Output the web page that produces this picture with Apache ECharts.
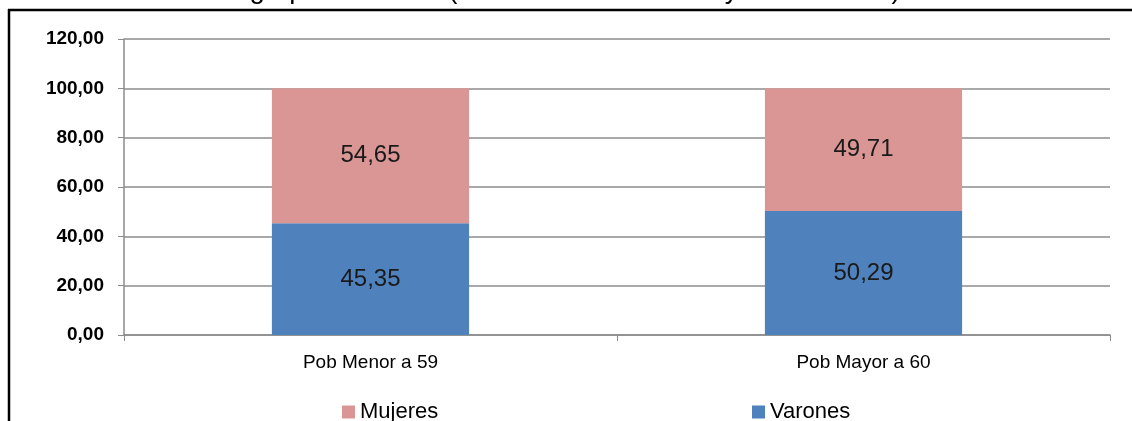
<!DOCTYPE html>
<html><head><meta charset="utf-8">
<script src="https://cdn.jsdelivr.net/npm/echarts@6/dist/echarts.min.js"></script>
<style>html,body{margin:0;padding:0;background:#fff;}#c{width:1132px;height:421px;}</style>
</head><body><div id="c"></div>
<script>
const categories = ['Pob Menor a 59', 'Pob Mayor a 60'];
const varones = [45.35, 50.29];
const mujeres = [54.65, 49.71];
const yTicks = {min: 0, max: 120, interval: 20};
const titleText = 'grupos de edad (Menor a 59 años / Mayor a 60 años)';

const fmt = v => Number(v).toFixed(2).replace('.', ',');
const FONT = '"Liberation Sans",Arial,sans-serif';
const chart = echarts.init(document.getElementById('c'));
chart.setOption({
  animation: false,
  textStyle: {fontFamily: FONT},
  grid: {left: 124, right: 22, top: 39, bottom: 86},
  graphic: [
    {type: 'text', x: 575, y: -24, style: {text: titleText, font: '27.5px ' + FONT, fill: '#000', textAlign: 'center'}},
    {type: 'line', shape: {x1: 8, y1: 10, x2: 1132, y2: 10}, style: {stroke: '#000', lineWidth: 2.5}},
    {type: 'line', shape: {x1: 9, y1: 9, x2: 9, y2: 421}, style: {stroke: '#000', lineWidth: 2.5}}
  ],
  legend: [
    {data: ['Mujeres'], left: 337, top: 396, icon: 'rect', itemWidth: 13, itemHeight: 13, itemGap: 5,
     textStyle: {fontSize: 22, color: '#000', fontFamily: FONT}},
    {data: ['Varones'], left: 747, top: 396, icon: 'rect', itemWidth: 13, itemHeight: 13, itemGap: 5,
     textStyle: {fontSize: 22, color: '#000', fontFamily: FONT}}
  ],
  xAxis: {
    type: 'category', data: categories,
    axisLine: {lineStyle: {color: '#8c8c8c', width: 1.5}},
    axisTick: {show: true, length: 6, lineStyle: {color: '#8c8c8c'}},
    axisLabel: {fontSize: 19, color: '#000', margin: 18, fontFamily: FONT}
  },
  yAxis: {
    type: 'value', min: yTicks.min, max: yTicks.max, interval: yTicks.interval,
    axisLine: {show: true, lineStyle: {color: '#8c8c8c', width: 1.5}},
    axisTick: {show: true, length: 6, lineStyle: {color: '#8c8c8c'}},
    splitLine: {lineStyle: {color: '#8c8c8c', width: 1.5}},
    axisLabel: {fontSize: 19, fontWeight: 'bold', color: '#000', margin: 20, formatter: fmt, fontFamily: FONT}
  },
  series: [
    {name: 'Varones', type: 'bar', stack: 's', data: varones, barWidth: '40%',
     itemStyle: {color: '#4F81BD'},
     label: {show: true, position: 'inside', formatter: p => fmt(p.value), fontSize: 24, color: '#1a1a1a', fontFamily: FONT}},
    {name: 'Mujeres', type: 'bar', stack: 's', data: mujeres, barWidth: '40%',
     itemStyle: {color: '#D99694'},
     label: {show: true, position: 'inside', formatter: p => fmt(p.value), fontSize: 24, color: '#1a1a1a', fontFamily: FONT}}
  ]
});
</script></body></html>
